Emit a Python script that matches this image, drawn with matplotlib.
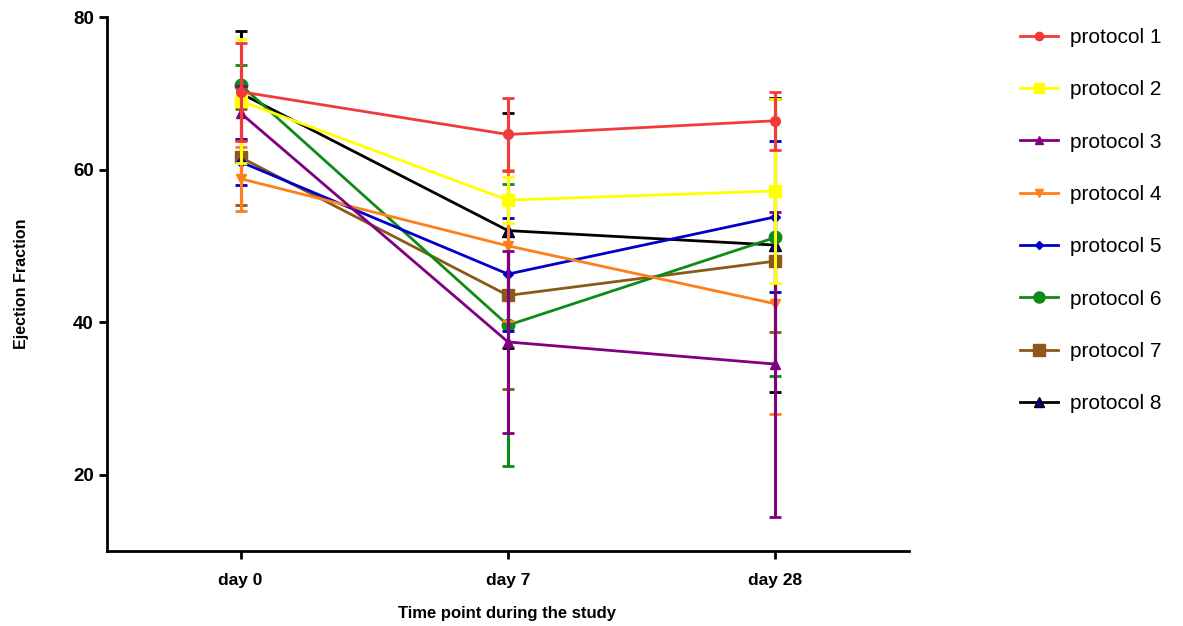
import matplotlib
matplotlib.use("Agg")
import matplotlib.pyplot as plt
import numpy as np
from matplotlib.lines import Line2D

plt.rcParams['font.family'] = ['Liberation Sans', 'DejaVu Sans']

timepoints = ["day 0", "day 7", "day 28"]
protocols = ["protocol 1", "protocol 2", "protocol 3", "protocol 4",
             "protocol 5", "protocol 6", "protocol 7", "protocol 8"]

means = {
    "protocol 1": [70.2, 64.6, 66.4],
    "protocol 2": [69.0, 56.0, 57.2],
    "protocol 3": [67.4, 37.4, 34.5],
    "protocol 4": [58.8, 50.0, 42.4],
    "protocol 5": [61.0, 46.3, 53.8],
    "protocol 6": [71.1, 39.6, 51.1],
    "protocol 7": [61.6, 43.5, 48.0],
    "protocol 8": [70.0, 52.0, 50.1],
}
sds = {
    "protocol 1": [6.4, 4.8, 3.8],
    "protocol 2": [8.1, 3.0, 12.1],
    "protocol 3": [3.5, 11.9, 20.0],
    "protocol 4": [4.2, 9.9, 14.4],
    "protocol 5": [3.0, 7.4, 9.9],
    "protocol 6": [2.6, 18.5, 18.2],
    "protocol 7": [6.3, 12.3, 9.3],
    "protocol 8": [8.1, 15.4, 19.3],
}

colors = ["#F23A3A", "#FFFF00", "#800080", "#FF7F1A",
          "#0000C8", "#0E8A16", "#8B5A1B", "#000000"]
markers = ["o", "s", "^", "v", "D", "o", "s", "^"]
msizes = [7, 8, 7, 7, 5, 9, 9, 8]
mfaces = ["#F23A3A", "#FFFF00", "#800080", "#FF7F1A",
          "#0000C8", "#0E8A16", "#8B5A1B", "#0000A0"]

fig = plt.figure(figsize=(11.83, 6.26), dpi=100)
ax = fig.add_axes([107/1183, 1-551/626, (909-107)/1183, (551-17)/626])

x = np.arange(len(timepoints))
for i, p in enumerate(protocols):
    ax.errorbar(x, means[p], yerr=sds[p], color=colors[i], marker=markers[i],
                markersize=msizes[i], markerfacecolor=mfaces[i],
                markeredgecolor=colors[i], linewidth=2, elinewidth=2.2,
                capsize=4, capthick=2, zorder=10 - i, label=p)

ax.set_xlim(-0.5, 2.5)
ax.set_ylim(10, 80)
ax.set_yticks([20, 40, 60, 80])
ax.set_xticks(x)
ax.set_xticklabels(timepoints)
for s in ["top", "right"]:
    ax.spines[s].set_visible(False)
for s in ["left", "bottom"]:
    ax.spines[s].set_linewidth(2)
ax.tick_params(axis='both', width=2, length=6)
ax.tick_params(axis='y', labelsize=13.5)
ax.tick_params(axis='x', labelsize=12.5, pad=10)
for lab in ax.get_xticklabels() + ax.get_yticklabels():
    lab.set_fontweight('bold')

ax.set_ylabel("Ejection Fraction", fontsize=11.5, fontweight='bold')
ax.yaxis.set_label_coords(-(107-29)/802, 0.5)
ax.set_xlabel("Time point during the study", fontsize=12, fontweight='bold')
ax.xaxis.set_label_coords((507-107)/802, -(606-551)/534)

leg_handles = [Line2D([0], [0], color=colors[i], marker=markers[i],
                      markersize=msizes[i] - 1, markerfacecolor=mfaces[i],
                      markeredgecolor=colors[i], linewidth=2)
               for i in range(len(protocols))]
fig.legend(leg_handles, protocols, loc='upper left',
           bbox_to_anchor=(1020/1183, 1 - 28/626), frameon=False,
           borderpad=0, borderaxespad=0,
           fontsize=15, labelspacing=1.6, handlelength=1.8, handletextpad=0.6)

fig.savefig("out.png", dpi=100)
